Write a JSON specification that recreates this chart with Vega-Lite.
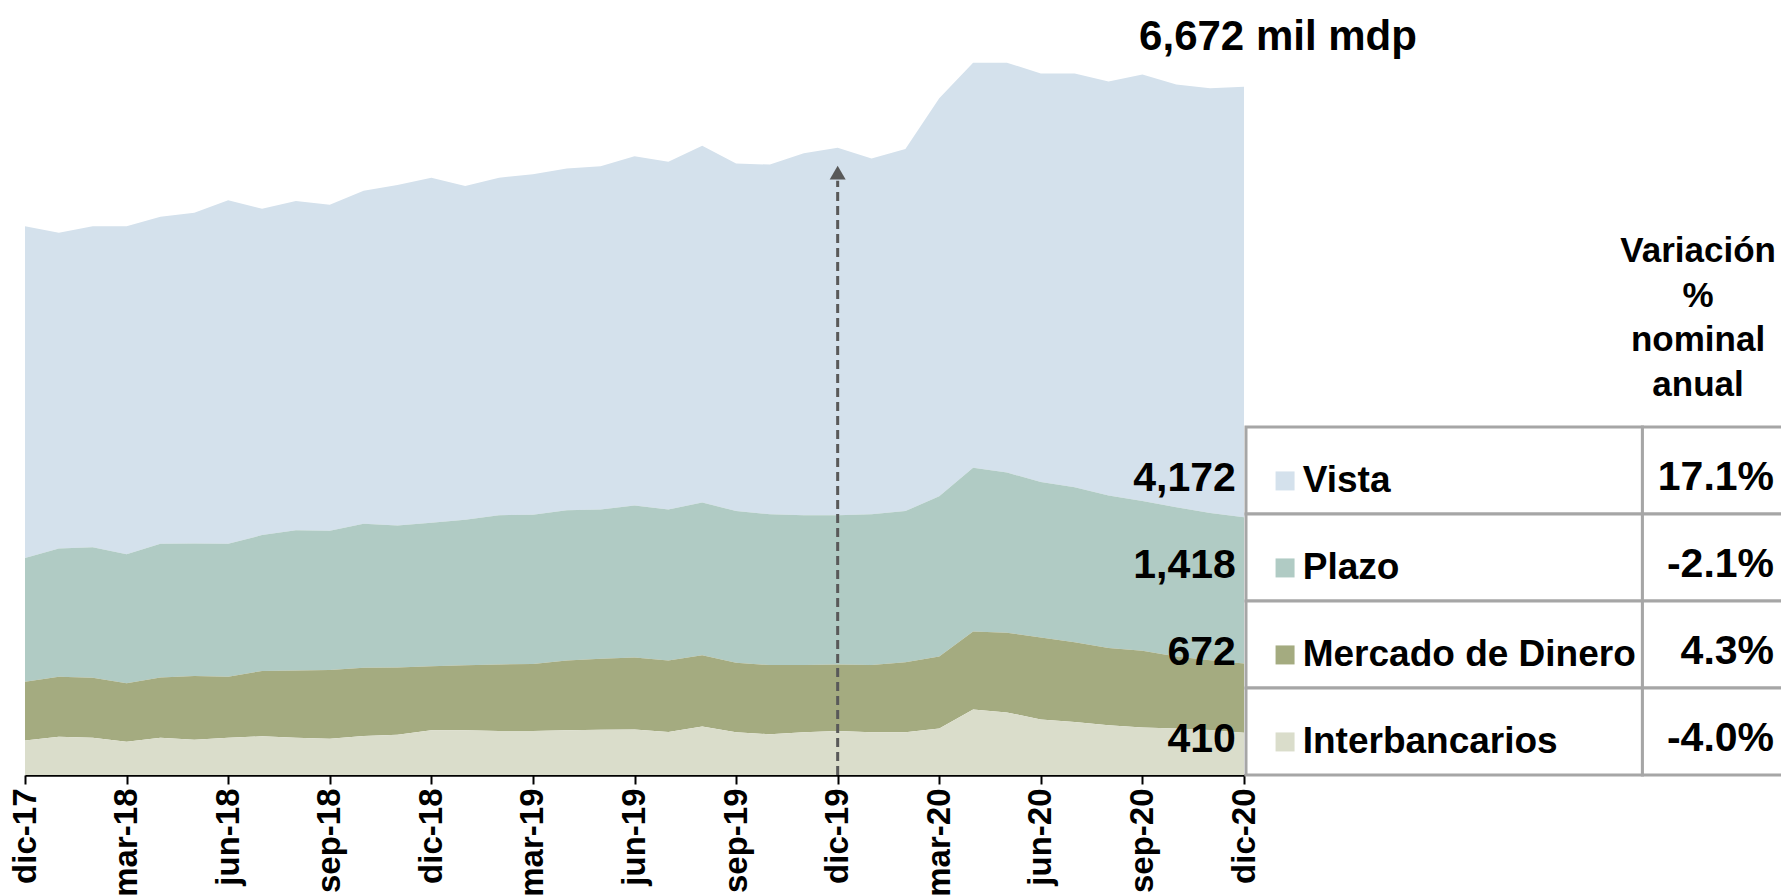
{
  "$schema": "https://vega.github.io/schema/vega-lite/v6.json",
  "background": "white",
  "padding": {"left": 9, "top": 15, "right": 0, "bottom": 0},
  "spacing": 2,
  "bounds": "flush",
  "config": {"font": "Liberation Sans", "view": {"stroke": null}},
  "hconcat": [
    {
      "width": 1219,
      "height": 722,
      "layer": [
        {
          "data": {"values": [
            {"mes": "dic-17", "Vista": 3216, "Plazo": 1199, "Mercado de Dinero": 571, "Interbancarios": 334},
            {"mes": "ene-18", "Vista": 3061, "Plazo": 1243, "Mercado de Dinero": 582, "Interbancarios": 371},
            {"mes": "feb-18", "Vista": 3113, "Plazo": 1265, "Mercado de Dinero": 582, "Interbancarios": 360},
            {"mes": "mar-18", "Vista": 3179, "Plazo": 1251, "Mercado de Dinero": 567, "Interbancarios": 323},
            {"mes": "abr-18", "Vista": 3172, "Plazo": 1295, "Mercado de Dinero": 586, "Interbancarios": 360},
            {"mes": "may-18", "Vista": 3205, "Plazo": 1284, "Mercado de Dinero": 620, "Interbancarios": 341},
            {"mes": "jun-18", "Vista": 3331, "Plazo": 1288, "Mercado de Dinero": 593, "Interbancarios": 360},
            {"mes": "jul-18", "Vista": 3165, "Plazo": 1317, "Mercado de Dinero": 634, "Interbancarios": 375},
            {"mes": "ago-18", "Vista": 3191, "Plazo": 1361, "Mercado de Dinero": 653, "Interbancarios": 360},
            {"mes": "sep-18", "Vista": 3161, "Plazo": 1350, "Mercado de Dinero": 665, "Interbancarios": 352},
            {"mes": "oct-18", "Vista": 3228, "Plazo": 1398, "Mercado de Dinero": 661, "Interbancarios": 378},
            {"mes": "nov-18", "Vista": 3302, "Plazo": 1376, "Mercado de Dinero": 653, "Interbancarios": 390},
            {"mes": "dic-18", "Vista": 3346, "Plazo": 1391, "Mercado de Dinero": 620, "Interbancarios": 434},
            {"mes": "ene-19", "Vista": 3235, "Plazo": 1410, "Mercado de Dinero": 631, "Interbancarios": 434},
            {"mes": "feb-19", "Vista": 3272, "Plazo": 1447, "Mercado de Dinero": 645, "Interbancarios": 427},
            {"mes": "mar-19", "Vista": 3301, "Plazo": 1447, "Mercado de Dinero": 649, "Interbancarios": 427},
            {"mes": "abr-19", "Vista": 3312, "Plazo": 1458, "Mercado de Dinero": 675, "Interbancarios": 434},
            {"mes": "may-19", "Vista": 3326, "Plazo": 1447, "Mercado de Dinero": 690, "Interbancarios": 438},
            {"mes": "jun-19", "Vista": 3388, "Plazo": 1473, "Mercado de Dinero": 698, "Interbancarios": 441},
            {"mes": "jul-19", "Vista": 3370, "Plazo": 1466, "Mercado de Dinero": 693, "Interbancarios": 416},
            {"mes": "ago-19", "Vista": 3458, "Plazo": 1482, "Mercado de Dinero": 690, "Interbancarios": 470},
            {"mes": "sep-19", "Vista": 3369, "Plazo": 1470, "Mercado de Dinero": 675, "Interbancarios": 414},
            {"mes": "oct-19", "Vista": 3391, "Plazo": 1461, "Mercado de Dinero": 671, "Interbancarios": 395},
            {"mes": "nov-19", "Vista": 3511, "Plazo": 1452, "Mercado de Dinero": 652, "Interbancarios": 414},
            {"mes": "dic-19", "Vista": 3563, "Plazo": 1448, "Mercado de Dinero": 644, "Interbancarios": 427},
            {"mes": "ene-20", "Vista": 3451, "Plazo": 1461, "Mercado de Dinero": 652, "Interbancarios": 414},
            {"mes": "feb-20", "Vista": 3511, "Plazo": 1465, "Mercado de Dinero": 680, "Interbancarios": 414},
            {"mes": "mar-20", "Vista": 3860, "Plazo": 1553, "Mercado de Dinero": 699, "Interbancarios": 450},
            {"mes": "abr-20", "Vista": 3928, "Plazo": 1586, "Mercado de Dinero": 758, "Interbancarios": 634},
            {"mes": "may-20", "Vista": 3974, "Plazo": 1553, "Mercado de Dinero": 772, "Interbancarios": 607},
            {"mes": "jun-20", "Vista": 3961, "Plazo": 1507, "Mercado de Dinero": 795, "Interbancarios": 538},
            {"mes": "jul-20", "Vista": 4012, "Plazo": 1502, "Mercado de Dinero": 772, "Interbancarios": 515},
            {"mes": "ago-20", "Vista": 4012, "Plazo": 1480, "Mercado de Dinero": 749, "Interbancarios": 482},
            {"mes": "sep-20", "Vista": 4136, "Plazo": 1452, "Mercado de Dinero": 744, "Interbancarios": 460},
            {"mes": "oct-20", "Vista": 4099, "Plazo": 1447, "Mercado de Dinero": 699, "Interbancarios": 450},
            {"mes": "nov-20", "Vista": 4117, "Plazo": 1429, "Mercado de Dinero": 675, "Interbancarios": 437},
            {"mes": "dic-20", "Vista": 4172, "Plazo": 1418, "Mercado de Dinero": 672, "Interbancarios": 410}
          ]},
          "transform": [{"fold": ["Vista", "Plazo", "Mercado de Dinero", "Interbancarios"], "as": ["serie", "valor"]}],
          "mark": {"type": "area", "interpolate": "linear"},
          "encoding": {
            "x": {
              "field": "mes", "type": "ordinal",
              "scale": {"type": "point", "padding": 0, "domain": ["dic-17","ene-18","feb-18","mar-18","abr-18","may-18","jun-18","jul-18","ago-18","sep-18","oct-18","nov-18","dic-18","ene-19","feb-19","mar-19","abr-19","may-19","jun-19","jul-19","ago-19","sep-19","oct-19","nov-19","dic-19","ene-20","feb-20","mar-20","abr-20","may-20","jun-20","jul-20","ago-20","sep-20","oct-20","nov-20","dic-20"]},
              "axis": {
                "values": ["dic-17","mar-18","jun-18","sep-18","dic-18","mar-19","jun-19","sep-19","dic-19","mar-20","jun-20","sep-20","dic-20"],
                "title": null, "grid": false, "labelAngle": -90,
                "labelFontSize": 33, "labelFontWeight": "bold", "labelColor": "black",
                "domainColor": "black", "domainWidth": 2.5, "tickColor": "black", "tickWidth": 2, "tickSize": 9, "labelPadding": 4
              }
            },
            "y": {"field": "valor", "type": "quantitative", "stack": "zero", "scale": {"domain": [0, 7000], "nice": false}, "axis": null},
            "color": {
              "field": "serie", "type": "nominal",
              "scale": {"domain": ["Vista", "Plazo", "Mercado de Dinero", "Interbancarios"], "range": ["#D4E1EC", "#B0CBC4", "#A4AB80", "#DADDCB"]},
              "legend": null
            },
            "order": {"field": "serie", "sort": "ascending"}
          }
        },
        {
          "data": {"values": [{"mes": "dic-19", "desde": 0, "hasta": 5762}]},
          "mark": {"type": "rule", "color": "#595959", "strokeWidth": 3, "strokeDash": [9, 5]},
          "encoding": {
            "x": {"field": "mes", "type": "ordinal"},
            "y": {"field": "desde", "type": "quantitative"},
            "y2": {"field": "hasta"}
          }
        },
        {
          "data": {"values": [{"mes": "dic-19", "punta": 5840}]},
          "mark": {"type": "point", "shape": "triangle-up", "filled": true, "size": 256, "color": "#595959", "opacity": 1},
          "encoding": {
            "x": {"field": "mes", "type": "ordinal"},
            "y": {"field": "punta", "type": "quantitative"}
          }
        },
        {
          "data": {"values": [{"mes": "dic-20", "total": 6672, "texto": "6,672 mil mdp"}]},
          "mark": {"type": "text", "align": "center", "baseline": "alphabetic", "dx": 34, "dy": -37, "fontSize": 42, "fontWeight": "bold", "color": "black"},
          "encoding": {
            "x": {"field": "mes", "type": "ordinal"},
            "y": {"field": "total", "type": "quantitative"},
            "text": {"field": "texto"}
          }
        }
      ]
    },
    {
      "spacing": 0,
      "bounds": "flush",
      "vconcat": [
        {
          "width": 535,
          "height": 374,
          "data": {"values": [{"encabezado": "Variación % nominal anual"}]},
          "mark": {"type": "text", "text": ["Variación", "%", "nominal", "anual"], "align": "center", "baseline": "alphabetic", "fontSize": 35, "lineHeight": 44.7, "fontWeight": "bold", "color": "black"},
          "encoding": {
            "x": {"datum": 84.5, "type": "quantitative", "scale": {"domain": [0, 100], "nice": false, "zero": false}, "axis": null},
            "y": {"datum": 0.441, "type": "quantitative", "scale": {"domain": [0, 1], "nice": false}, "axis": null}
          }
        },
        {
          "width": 535,
          "height": 348,
          "data": {"values": [
            {"categoria": "Vista", "saldo": "4,172", "variacion": "17.1%"},
            {"categoria": "Plazo", "saldo": "1,418", "variacion": "-2.1%"},
            {"categoria": "Mercado de Dinero", "saldo": "672", "variacion": "4.3%"},
            {"categoria": "Interbancarios", "saldo": "410", "variacion": "-4.0%"}
          ]},
          "layer": [
            {
              "mark": {"type": "rect", "fill": "white", "stroke": "#A6A6A6", "strokeWidth": 3},
              "encoding": {
                "y": {"field": "categoria", "type": "nominal", "scale": {"domain": ["Vista", "Plazo", "Mercado de Dinero", "Interbancarios"], "paddingInner": 0, "paddingOuter": 0}, "axis": null},
                "x": {"datum": 0, "type": "quantitative", "scale": {"domain": [0, 100], "nice": false, "zero": false}, "axis": null},
                "x2": {"datum": 74.1}
              }
            },
            {
              "mark": {"type": "rect", "fill": "white", "stroke": "#A6A6A6", "strokeWidth": 3},
              "encoding": {
                "y": {"field": "categoria", "type": "nominal"},
                "x": {"datum": 74.1, "type": "quantitative"},
                "x2": {"datum": 106}
              }
            },
            {
              "mark": {"type": "point", "shape": "square", "filled": true, "size": 361, "opacity": 1},
              "encoding": {
                "y": {"field": "categoria", "type": "nominal", "bandPosition": 0.62},
                "x": {"datum": 7.3, "type": "quantitative"},
                "color": {"field": "categoria", "type": "nominal", "legend": null}
              }
            },
            {
              "mark": {"type": "text", "align": "left", "baseline": "middle", "fontSize": 37, "fontWeight": "bold", "color": "black"},
              "encoding": {
                "y": {"field": "categoria", "type": "nominal", "bandPosition": 0.62},
                "x": {"datum": 10.6, "type": "quantitative"},
                "text": {"field": "categoria"}
              }
            },
            {
              "mark": {"type": "text", "align": "right", "baseline": "middle", "fontSize": 41, "fontWeight": "bold", "color": "black"},
              "encoding": {
                "y": {"field": "categoria", "type": "nominal", "bandPosition": 0.59},
                "x": {"datum": 98.7, "type": "quantitative"},
                "text": {"field": "variacion"}
              }
            },
            {
              "mark": {"type": "text", "align": "right", "baseline": "middle", "fontSize": 41, "fontWeight": "bold", "color": "black"},
              "encoding": {
                "y": {"field": "categoria", "type": "nominal", "bandPosition": 0.6},
                "x": {"datum": -1.9, "type": "quantitative"},
                "text": {"field": "saldo"}
              }
            }
          ]
        }
      ]
    }
  ]
}
